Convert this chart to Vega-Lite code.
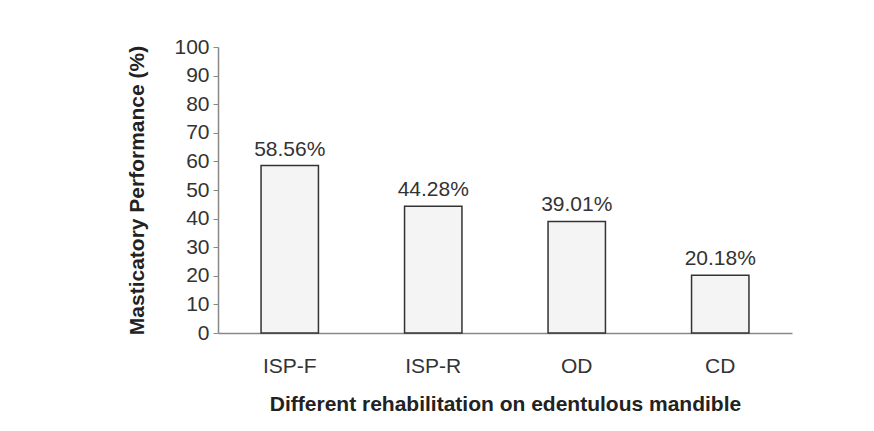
{
  "$schema": "https://vega.github.io/schema/vega-lite/v6.json",
  "autosize": {"type": "none"},
  "padding": {"left": 218, "top": 47, "right": 82, "bottom": 98},
  "width": 574,
  "height": 286,
  "background": "white",
  "config": {
    "view": {"stroke": null},
    "font": "Liberation Sans"
  },
  "data": {
    "values": [
      {"group": "ISP-F", "value": 58.56, "label": "58.56%"},
      {"group": "ISP-R", "value": 44.28, "label": "44.28%"},
      {"group": "OD", "value": 39.01, "label": "39.01%"},
      {"group": "CD", "value": 20.18, "label": "20.18%"}
    ]
  },
  "encoding": {
    "x": {
      "field": "group",
      "type": "nominal",
      "sort": null,
      "scale": {"paddingInner": 0.6, "paddingOuter": 0.3},
      "axis": {
        "title": "Different rehabilitation on edentulous mandible",
        "titleFont": "Liberation Sans",
        "titleFontSize": 21,
        "titleFontWeight": "bold",
        "titleColor": "#222",
        "titlePadding": 17,
        "labelAngle": 0,
        "labelFontSize": 21,
        "labelColor": "#333",
        "labelPadding": 22,
        "ticks": false,
        "domainColor": "#888",
        "domainWidth": 1.5
      }
    },
    "y": {
      "field": "value",
      "type": "quantitative",
      "scale": {"domain": [0, 100]},
      "axis": {
        "title": "Masticatory Performance (%)",
        "titleFont": "Liberation Sans",
        "titleFontSize": 21,
        "titleFontWeight": "bold",
        "titleColor": "#222",
        "titlePadding": 26,
        "values": [0, 10, 20, 30, 40, 50, 60, 70, 80, 90, 100],
        "labelFontSize": 21,
        "labelColor": "#333",
        "labelPadding": 4,
        "tickSize": 5,
        "tickColor": "#888",
        "domainColor": "#888",
        "domainWidth": 1.5,
        "grid": false
      }
    }
  },
  "layer": [
    {
      "mark": {"type": "bar", "fill": "#f4f4f4", "stroke": "#333", "strokeWidth": 1.5}
    },
    {
      "mark": {"type": "text", "baseline": "bottom", "dy": -6, "fontSize": 21, "color": "#333"},
      "encoding": {"text": {"field": "label"}}
    }
  ]
}
